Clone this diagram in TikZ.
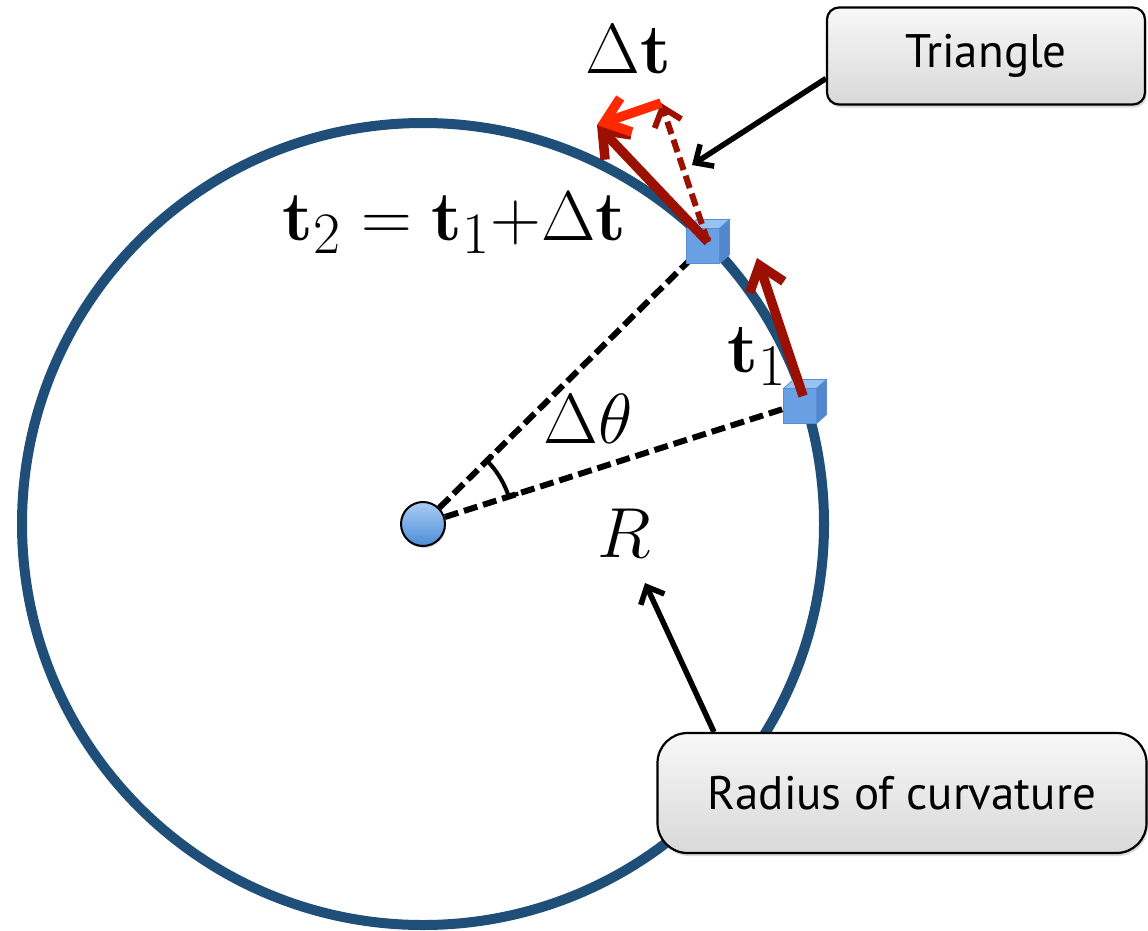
\documentclass[tikz,border=0pt]{standalone}
\usepackage[no-math]{fontspec}
\newfontfamily\boxfont{PT Sans}
\usetikzlibrary{arrows.meta,shadows,calc}
\definecolor{ringblue}{RGB}{31,78,121}
\definecolor{tred}{RGB}{155,16,0}
\definecolor{dred}{RGB}{255,40,0}
\definecolor{cubefront}{RGB}{105,160,228}
\definecolor{cubetop}{RGB}{150,195,242}
\definecolor{cubeside}{RGB}{80,135,205}
\definecolor{cubeedge}{RGB}{90,140,210}
\definecolor{dotlight}{RGB}{170,205,245}
\definecolor{dotdark}{RGB}{75,140,215}
\newcommand\drawcube[1]{%
  \filldraw[fill=cubetop, draw=cubeedge, line width=0.8pt] (#1.north west) -- ++(10,-9) -- ++(33,0) -- (#1.north east) -- cycle;
  \filldraw[fill=cubeside, draw=cubeedge, line width=0.8pt] (#1.north east) -- ++(10,-9) -- ++(0,35) -- (#1.south east) -- cycle;
}
\begin{document}
\begin{tikzpicture}[x=1pt,y=-1pt,
  lbl/.style={inner sep=0pt, font=\Huge, scale=2.85},
  eqn/.style={inner sep=0pt, font=\Huge, scale=2.83},
  callout/.style={draw=black, line width=2.2pt, top color=gray!6, bottom color=gray!30,
     font=\boxfont\fontsize{47}{50}\selectfont,
     drop shadow={opacity=0.3, shadow xshift=1.5pt, shadow yshift=-3pt}},
  vec/.style={line width=9.5pt, tred, -{Straight Barb[length=23pt,width=36pt]}},
  dvec/.style={line width=9.5pt, dred, -{Straight Barb[length=23pt,width=36pt]}},
  dashvec/.style={line width=6pt, tred, dash pattern=on 13pt off 6pt, -{Straight Barb[length=17pt,width=28pt]}},
  dashline/.style={line width=6pt, black, dash pattern=on 14pt off 6pt},
  callarrow/.style={line width=5.5pt, black, -{Straight Barb[length=14pt,width=26pt]}},
  cubeface/.style={draw=cubeedge, line width=0.8pt, fill=cubefront, minimum width=33pt, minimum height=35pt, inner sep=0pt, outer sep=0pt}
]
\useasboundingbox (0,0) rectangle (1148,930);

% centre and points on the circle
\coordinate (Oc) at (423,524);
\coordinate (P1) at (805,402);
\coordinate (P2) at (708,242);

% big circle
\draw[ringblue, line width=10pt] (Oc) circle[radius=401pt];

% centre dot
\node[circle, draw=black, line width=2pt, minimum size=44pt, inner sep=0pt,
      top color=dotlight, bottom color=dotdark,
      drop shadow={opacity=0.3, shadow xshift=1pt, shadow yshift=-2pt}] (O) at (Oc) {};

% radii
\draw[dashline] (O) -- (P2);
\draw[dashline] (O) -- (P1);

% angle mark
\draw[line width=4pt, line join=miter]
  ({423+98*cos(44.7)},{524-98*sin(44.7)}) --
  plot[domain=44.7:17.7, samples=30] ({423+90*cos(\x)},{524-90*sin(\x)}) --
  ({423+100*cos(17.7)},{524-100*sin(17.7)});

% cubes
\node[cubeface] (c1) at ($(P1)+(-5,4)$) {};
\drawcube{c1}
\node[cubeface] (c2) at ($(P2)+(-5,4)$) {};
\drawcube{c2}

% vectors
\coordinate (T1) at (757,258);
\coordinate (T2) at (597,125);
\coordinate (D) at (661,103);
\draw[vec] ($(P1)+(-2,-6)$) -- (T1);
\draw[vec] (P2) -- (T2);
\draw[dashvec] (P2) -- (D);
\draw[dvec] (D) -- (T2);

% labels
\node[lbl, anchor=base west] (dtl) at (585,73) {$\Delta\mathbf{t}$};
\node[eqn, anchor=base west] (eq) at (282,240) {$\mathbf{t}_2 = \mathbf{t}_1{+}\Delta\mathbf{t}$};
\node[lbl, anchor=base west] (t1l) at (727,372) {$\mathbf{t}_1$};
\node[lbl, anchor=base west] (thl) at (543,443) {$\Delta\theta$};
\node[lbl, anchor=base west] (rl) at (597,557) {$R$};

% callouts
\node[callout, rounded corners=12pt, minimum width=318pt, minimum height=97pt] (tri) at (986,56) {Triangle};
\node[callout, rounded corners=30pt, minimum width=489pt, minimum height=120pt] (rad) at (902,793) {Radius of curvature};
\coordinate (triTip) at (692,165);
\coordinate (radTip) at (645,583);
\draw[callarrow] (tri.188) -- (triTip);
\draw[callarrow] (rad.162) -- (radTip);
\end{tikzpicture}
\end{document}
